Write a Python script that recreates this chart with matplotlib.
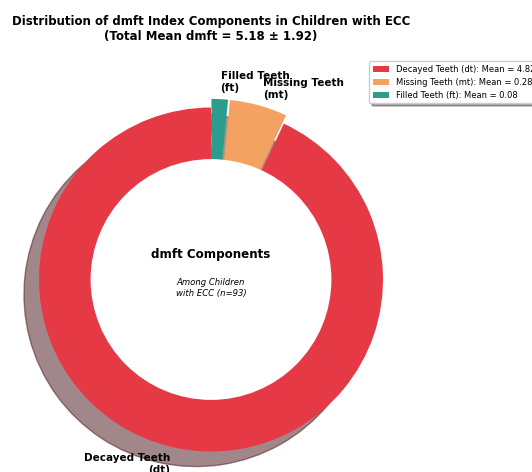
import matplotlib.pyplot as plt

# dmft components (mean values)
labels = ["Decayed Teeth\n(dt)", "Missing Teeth\n(mt)", "Filled Teeth\n(ft)"]
legend_names = ["Decayed Teeth (dt)", "Missing Teeth (mt)", "Filled Teeth (ft)"]
means = [4.82, 0.28, 0.08]
colors = ["#e63946", "#f4a261", "#2a9d8f"]
explode = [0, 0.05, 0.05]

fig = plt.figure(figsize=(5.32, 4.72), dpi=100)
ax = fig.add_axes([-0.0075, -0.0477, 430 / 532, 430 / 472])

wedges, texts = ax.pie(
    means,
    labels=labels,
    colors=colors,
    explode=explode,
    startangle=90,
    shadow={"ox": -0.063, "oy": -0.063},
    textprops=dict(fontsize=7.5, fontweight="bold"),
)
# donut hole drawn over the pie (hides the shadow inside)
centre = plt.Circle((0, 0), 0.70, fc="white")
ax.add_artist(centre)

ax.set_xlim(-1.25, 1.25)
ax.set_ylim(-1.25, 1.25)
ax.set_aspect("equal")

ax.text(0, 0.145, "dmft Components", ha="center", va="center",
        fontsize=8.6, fontweight="bold")
ax.text(0, -0.05, "Among Children\nwith ECC (n=93)", ha="center", va="center",
        fontsize=6.1, style="italic")

ax.set_title("Distribution of dmft Index Components in Children with ECC\n"
             "(Total Mean dmft = 5.18 \u00b1 1.92)",
             fontsize=8.5, fontweight="bold", pad=18)

leg_labels = [f"{n}: Mean = {m:.2f}" for n, m in zip(legend_names, means)]
ax.legend(wedges, leg_labels, loc="upper left",
          bbox_to_anchor=(365 / 532, 1 - 57 / 472),
          bbox_transform=fig.transFigure, fontsize=6.0, shadow=True)

plt.savefig("out.png", dpi=100)
